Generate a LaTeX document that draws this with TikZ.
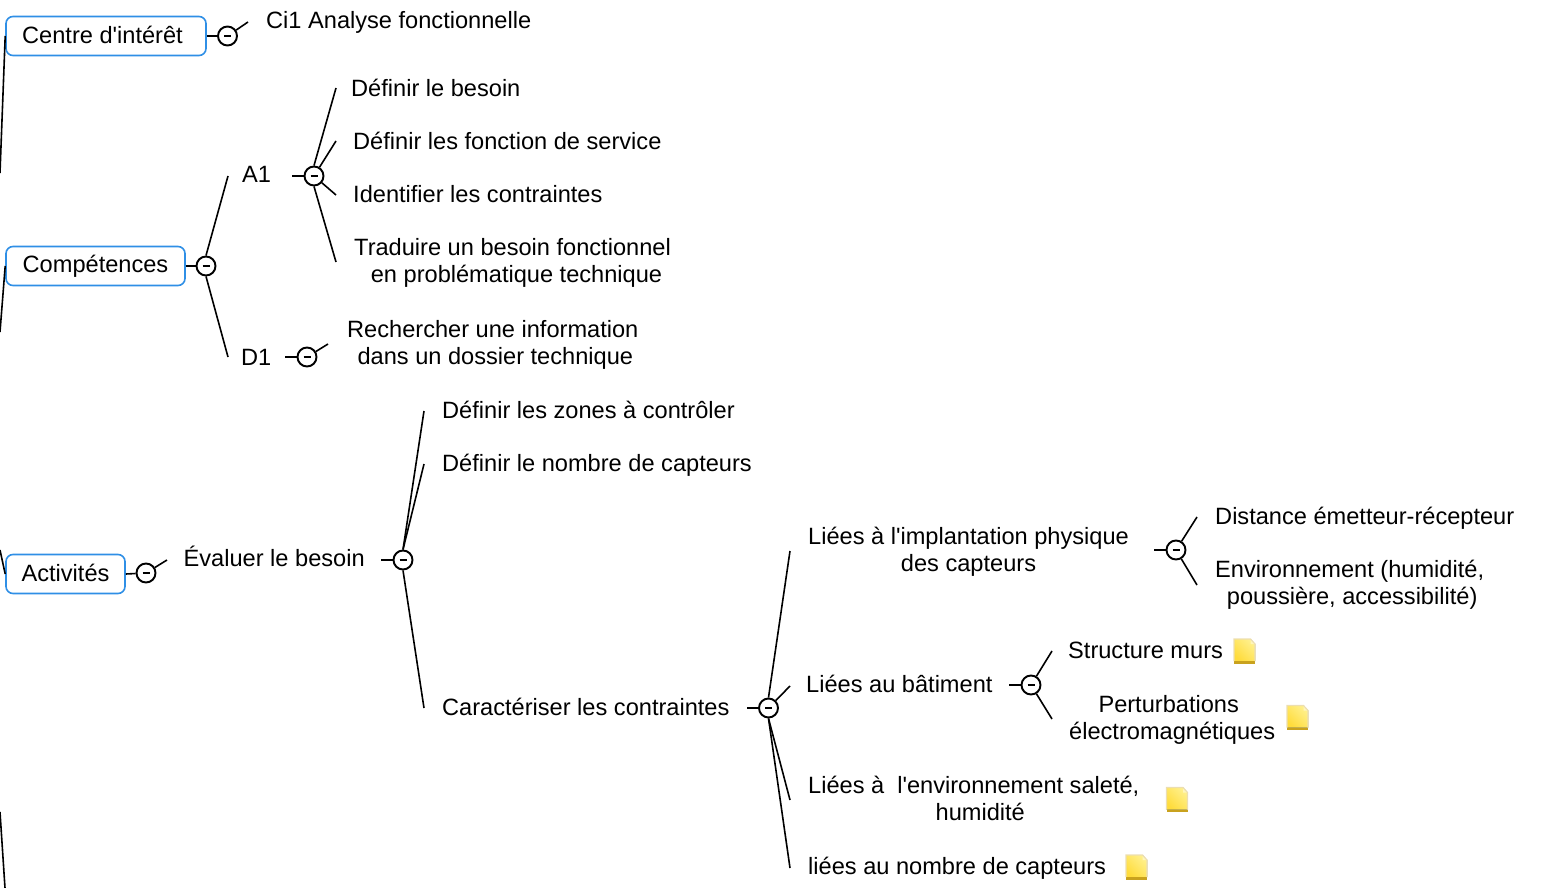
\documentclass[tikz,border=0pt]{standalone}
\usepackage{fontspec}
\newfontfamily\basefont{Liberation Sans}
\definecolor{boxblue}{HTML}{2F8FE6}
\definecolor{notelight}{HTML}{FFF08C}
\definecolor{notedark}{HTML}{FFDC3C}
\definecolor{noteedge}{HTML}{C9A21E}
\newcommand{\notemark}[1]{%
  \begin{scope}[shift={(#1)}]
    \fill[top color=notedark,bottom color=notelight,shading angle=135] (-10.5,-12) -- (6,-12) -- (10.5,-7) -- (10.5,10) -- (-10.5,10) -- cycle;
    \fill[notelight!60!white] (6,-12) -- (10.5,-7) -- (6,-7) -- cycle;
    \fill[noteedge] (-10.5,10) rectangle (10.5,12.5);
    \draw[noteedge!35!white,line width=1.2pt] (-10.5,10) -- (-10.5,-12) -- (6,-12) -- (10.5,-7) -- (10.5,10);
  \end{scope}}
\tikzset{
  x=1pt,y=-1pt,
  txt/.style={inner sep=0pt,align=center,font=\basefont\fontsize{23.6}{27}\selectfont,text=black},
  topic/.style={draw=boxblue,line width=1.6pt,rounded corners=7pt,fill=white,inner sep=0pt,minimum height=39pt,font=\basefont\fontsize{23.6}{27}\selectfont},
  toggle/.style={circle,draw=black,line width=1.9pt,fill=white,minimum size=19pt,inner sep=0pt,
    path picture={\draw[line width=1.5pt] ([xshift=-3.5pt]path picture bounding box.center) -- ([xshift=3.5pt]path picture bounding box.center);}},
  link/.style={draw=black,line width=1.6pt},
}
\begin{document}
\begin{tikzpicture}
\useasboundingbox (0,0) rectangle (1542,888);
% free ends
\foreach \n/\x/\y in {
 e1/248/22, e2/0/173, e3/0/332, e4/0/550, e5/0/812, e6/5/888,
 a1/228/176, d1/228/357, s1/292/176, b1/336/88, b2/336/141, b3/336/195, b4/336/262,
 s2/285/357, c1/328/344, f1/167/560, s3/381/560, g1/424/411, g2/424/464, g3/424/708,
 s4/747/708, h1/790/551, h2/790/686, h3/790/800, h4/790/868,
 s5/1154/550, i1/1197/517, i2/1197/585, s6/1009/685, j1/1052/651, j2/1052/719}
 {\coordinate (\n) at (\x,\y);}
% topics
\node[topic,minimum width=200pt] (centre) at (106,36) {\hspace*{-7pt}\raisebox{2pt}{Centre d'intérêt}};
\node[topic,minimum width=179pt] (comp) at (95.5,266) {\raisebox{-2pt}{Compétences}};
\node[topic,minimum width=119pt] (activ) at (65.5,574) {\raisebox{3pt}{Activités}};
% toggles
\node[toggle] (t1) at (227.5,36) {};
\node[toggle] (t2) at (206,266) {};
\node[toggle] (t3) at (314,176) {};
\node[toggle] (t4) at (307,357) {};
\node[toggle] (t5) at (146,573) {};
\node[toggle] (t6) at (403,560) {};
\node[toggle] (t7) at (768.5,708) {};
\node[toggle] (t8) at (1176,550) {};
\node[toggle] (t9) at (1031,685) {};
% connectors
\draw[link] (centre.west) -- (e2);
\draw[link] (comp.west) -- (e3);
\draw[link] (e4) -- (activ.west);
\draw[link] (e5) -- (e6);
\draw[link] (centre.east) -- (t1);
\draw[link] (t1) -- (e1);
\draw[link] (comp.east) -- (t2);
\draw[link] (t2.north) -- (a1);
\draw[link] (t2.south) -- (d1);
\draw[link] (s1) -- (t3);
\draw[link] (t3.north) -- (b1);
\draw[link] (t3) -- (b2);
\draw[link] (t3) -- (b3);
\draw[link] (t3.south) -- (b4);
\draw[link] (s2) -- (t4);
\draw[link] (t4) -- (c1);
\draw[link] (activ.east) -- (t5);
\draw[link] (t5) -- (f1);
\draw[link] (s3) -- (t6);
\draw[link] (t6.north) -- (g1);
\draw[link] (t6.north) -- (g2);
\draw[link] (t6.south) -- (g3);
\draw[link] (s4) -- (t7);
\draw[link] (t7.north) -- (h1);
\draw[link] (t7) -- (h2);
\draw[link] (t7.south) -- (h3);
\draw[link] (t7.south) -- (h4);
\draw[link] (s5) -- (t8);
\draw[link] (t8) -- (i1);
\draw[link] (t8) -- (i2);
\draw[link] (s6) -- (t9);
\draw[link] (t9) -- (j1);
\draw[link] (t9) -- (j2);
% texts
\node[txt,anchor=west] (ci1) at (266,22) {Ci1 Analyse fonctionnelle};
\node[txt,anchor=west] (A1) at (242,174) {A1};
\node[txt,anchor=west] (D1) at (241,357) {D1};
\node[txt,anchor=west] (x1) at (351,88) {Définir le besoin};
\node[txt,anchor=west] (x2) at (353,141) {Définir les fonction de service};
\node[txt,anchor=west] (x3) at (353,194) {Identifier les contraintes};
\node[txt,anchor=west] (x4) at (354,263) {Traduire un besoin fonctionnel\\\hspace*{8pt}en problématique technique};
\node[txt,anchor=west] (x5) at (347,345) {Rechercher une information\\\hspace*{5pt}dans un dossier technique};
\node[txt,anchor=west] (x6) at (183.5,556) {Évaluer le besoin};
\node[txt,anchor=west] (x7) at (442,410) {Définir les zones à contrôler};
\node[txt,anchor=west] (x8) at (442,465) {Définir le nombre de capteurs};
\node[txt,anchor=west] (x9) at (442,707) {Caractériser les contraintes};
\node[txt,anchor=west] (y1) at (808,552) {Liées à l'implantation physique\\des capteurs};
\node[txt,anchor=west] (y2) at (806,684) {Liées au bâtiment};
\node[txt,anchor=west] (y3) at (808,798) {Liées à\hspace{6.5pt} l'environnement saleté,\\\hspace*{13pt}humidité};
\node[txt,anchor=west] (y4) at (808,868) {liées au nombre de capteurs};
\node[txt,anchor=west] (z1) at (1215,518) {Distance émetteur-récepteur};
\node[txt,anchor=west] (z2) at (1215,585) {Environnement (humidité,\\\hspace*{5pt}poussière, accessibilité)};
\node[txt,anchor=west] (z3) at (1068,650) {Structure murs};
\node[txt,anchor=west] (z4) at (1069,720) {Perturbations\hspace*{7pt}\\électromagnétiques};
% note icons
\notemark{1244.5,651}
\notemark{1297.5,717.5}
\notemark{1177,799.5}
\notemark{1136.5,867}
\end{tikzpicture}
\end{document}
